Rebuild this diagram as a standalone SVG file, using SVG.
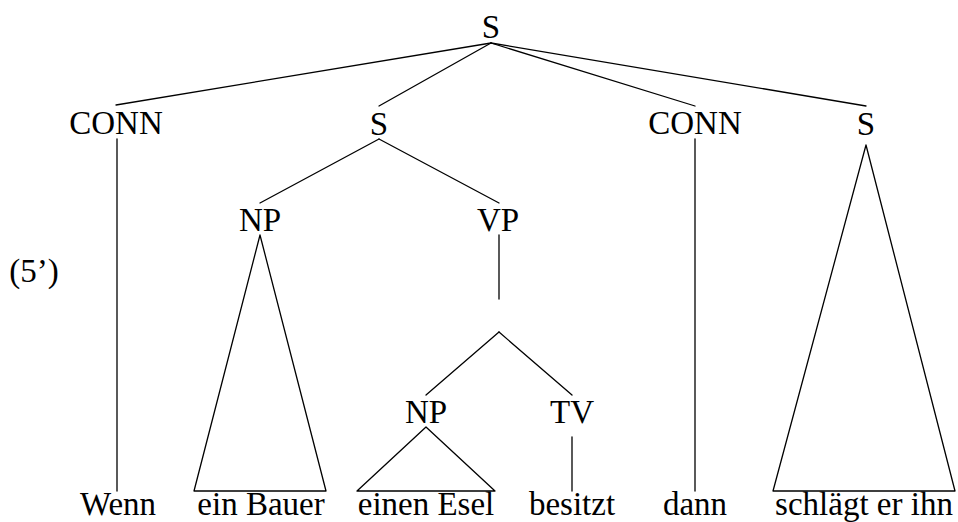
<svg xmlns="http://www.w3.org/2000/svg" width="958" height="522" viewBox="0 0 958 522">
  <style>
    text { font-family: "Liberation Serif", "DejaVu Serif", serif; font-size: 33px; fill: #000; text-anchor: middle; }
    .edge { stroke: #000; stroke-width: 1.3; fill: none; stroke-linecap: round; stroke-linejoin: round; }
  </style>
  <rect width="958" height="522" fill="#fff"/>

  <!-- tree edges and subtree triangles -->
  <g id="connectors">
    <line class="edge" x1="491" y1="43" x2="116" y2="105"/>
    <line class="edge" x1="491" y1="43" x2="379" y2="106"/>
    <line class="edge" x1="491" y1="43" x2="695" y2="106"/>
    <line class="edge" x1="491" y1="43" x2="866" y2="106"/>
    <line class="edge" x1="117" y1="139" x2="117" y2="491"/>
    <line class="edge" x1="379" y1="139" x2="260" y2="203"/>
    <line class="edge" x1="379" y1="139" x2="499" y2="203"/>
    <polygon class="edge" points="260,235 194,491 326,491"/>
    <line class="edge" x1="499" y1="235" x2="499" y2="299"/>
    <line class="edge" x1="499" y1="332" x2="426" y2="395"/>
    <line class="edge" x1="499" y1="332" x2="572" y2="395"/>
    <polygon class="edge" points="426,427 357,491 495,491"/>
    <line class="edge" x1="572" y1="437" x2="572" y2="491"/>
    <line class="edge" x1="695" y1="139" x2="695" y2="491"/>
    <polygon class="edge" points="866,145 773,491 955,491"/>
  </g>

  <g id="label-5">
    <text x="34" y="282">(5’)</text>
  </g>
  <g id="s-root"><text x="491" y="38">S</text></g>
  <g id="conn-1"><text x="116" y="134">CONN</text></g>
  <g id="s-1"><text x="379" y="135">S</text></g>
  <g id="conn-2"><text x="695" y="134">CONN</text></g>
  <g id="s-2"><text x="866" y="135">S</text></g>
  <g id="np-1"><text x="260" y="231">NP</text></g>
  <g id="vp"><text x="498" y="231">VP</text></g>
  <g id="np-2"><text x="426" y="423">NP</text></g>
  <g id="tv"><text x="572" y="423">TV</text></g>

  <g id="words">
    <text x="118" y="515">Wenn</text>
    <text x="261" y="515">ein Bauer</text>
    <text x="426" y="515">einen Esel</text>
    <text x="572" y="515">besitzt</text>
    <text x="695" y="515">dann</text>
    <text x="864" y="515">schlägt er ihn</text>
  </g>
</svg>
